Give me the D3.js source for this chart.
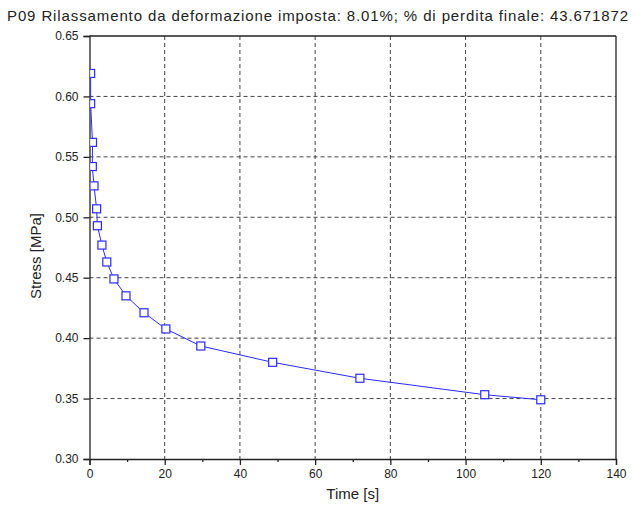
<!DOCTYPE html>
<html>
<head>
<meta charset="utf-8">
<script src="https://cdn.jsdelivr.net/npm/d3@7"></script>
<style>
  body { margin: 0; background: #fff; }
  svg { font-family: "Liberation Sans", Arial, sans-serif; }
</style>
</head>
<body>
<svg width="635" height="507"></svg>
<script>
// data
const timeS = [0.3, 0.3, 0.8, 0.75, 1.2, 1.9, 2.1, 3.3, 4.6, 6.5, 9.7, 14.5, 20.3, 29.6, 48.7, 71.9, 105.1, 120];
const stressMPa = [0.619, 0.594, 0.562, 0.542, 0.526, 0.507, 0.493, 0.477, 0.463, 0.449, 0.435, 0.421, 0.4076, 0.3935, 0.380, 0.3668, 0.3532, 0.349];
const xTicks = [0, 20, 40, 60, 80, 100, 120, 140];
const yTicks = [0.30, 0.35, 0.40, 0.45, 0.50, 0.55, 0.60, 0.65];
const title = 'P09 Rilassamento da deformazione imposta: 8.01%; % di perdita finale: 43.671872';

const svg = d3.select('svg');
const margin = { left: 89.5, right: 616, top: 36, bottom: 459 };

const x = d3.scaleLinear().domain([0, 140]).range([margin.left, margin.right]);
const y = d3.scaleLinear().domain([0.30, 0.65]).range([margin.bottom, margin.top]);

// grid
const grid = svg.append('g').attr('stroke', '#444').attr('stroke-dasharray', '4,3').attr('stroke-width', 1);
grid.selectAll('line.gx')
  .data(xTicks.slice(1, -1))
  .enter().append('line')
  .attr('x1', d => x(d)).attr('x2', d => x(d))
  .attr('y1', margin.top).attr('y2', margin.bottom);
grid.selectAll('line.gy')
  .data(yTicks.slice(1, -1))
  .enter().append('line')
  .attr('y1', d => y(d)).attr('y2', d => y(d))
  .attr('x1', margin.left).attr('x2', margin.right);

// axes
const xAxis = d3.axisBottom(x).tickValues(xTicks).tickFormat(d3.format('d')).tickSize(6).tickPadding(4);
const xMinor = d3.axisBottom(x).tickValues(d3.range(10, 140, 20)).tickFormat('').tickSize(3);
const yAxis = d3.axisLeft(y).tickValues(yTicks).tickFormat(d3.format('.2f')).tickSize(6).tickPadding(5);

function styleAxis(g) {
  g.select('.domain').attr('stroke', '#222').attr('stroke-width', 1.3);
  g.selectAll('.tick line').attr('stroke', '#222').attr('stroke-width', 1.3);
  g.selectAll('.tick text').attr('fill', '#222').style('font-size', '12px')
    .style('font-family', '"Liberation Sans", Arial, sans-serif');
}

svg.append('g').attr('transform', `translate(0,${margin.bottom})`).call(xAxis).call(styleAxis);
svg.append('g').attr('transform', `translate(0,${margin.bottom})`).call(xMinor).call(styleAxis)
  .select('.domain').remove();
svg.append('g').attr('transform', `translate(${margin.left},0)`).call(yAxis).call(styleAxis);

// top and right frame
svg.append('line').attr('x1', margin.left).attr('x2', margin.right)
  .attr('y1', margin.top).attr('y2', margin.top).attr('stroke', '#222').attr('stroke-width', 1.3);
svg.append('line').attr('x1', margin.right).attr('x2', margin.right)
  .attr('y1', margin.top).attr('y2', margin.bottom).attr('stroke', '#222').attr('stroke-width', 1.3);

// clip to plot area
svg.append('clipPath').attr('id', 'plot')
  .append('rect')
  .attr('x', margin.left + 0.7).attr('y', margin.top)
  .attr('width', margin.right - margin.left).attr('height', margin.bottom - margin.top);

const pts = timeS.map((t, i) => [t, stressMPa[i]]);
const plot = svg.append('g').attr('clip-path', 'url(#plot)');

plot.append('path')
  .datum(pts)
  .attr('fill', 'none')
  .attr('stroke', '#2a2aff')
  .attr('stroke-width', 1)
  .attr('d', d3.line().x(d => x(d[0])).y(d => y(d[1])));

plot.selectAll('rect.m')
  .data(pts)
  .enter().append('rect')
  .attr('x', d => x(d[0]) - 4).attr('y', d => y(d[1]) - 4)
  .attr('width', 8).attr('height', 8)
  .attr('fill', '#fff').attr('stroke', '#2a2aff').attr('stroke-width', 1.2);

// labels
svg.append('text')
  .attr('x', 7).attr('y', 21)
  .attr('textLength', 621).attr('lengthAdjust', 'spacing')
  .style('font-size', '15px').attr('fill', '#222')
  .text(title);

svg.append('text')
  .attr('x', (margin.left + margin.right) / 2).attr('y', 499)
  .attr('text-anchor', 'middle')
  .style('font-size', '15px').attr('fill', '#222')
  .text('Time [s]');

svg.append('text')
  .attr('transform', 'translate(41,256) rotate(-90)')
  .attr('text-anchor', 'middle')
  .style('font-size', '15px').attr('fill', '#222')
  .text('Stress [MPa]');
</script>
</body>
</html>
